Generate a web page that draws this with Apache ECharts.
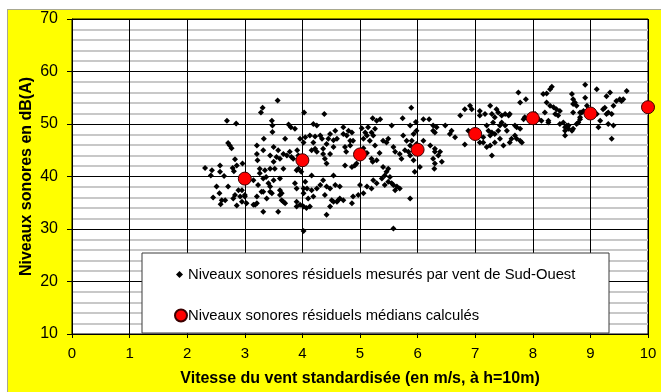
<!DOCTYPE html>
<html>
<head>
<meta charset="utf-8">
<script src="https://cdn.jsdelivr.net/npm/echarts@6/dist/echarts.min.js"></script>
<style>
  html, body { margin: 0; padding: 0; background: #ffffff; }
  #frame {
    position: absolute; left: 7px; top: 9px; width: 660px; height: 390px;
    background: #ffff00; border-left: 1px solid #a8a890; border-top: 1px solid #a8a890;
  }
  #chart { position: absolute; left: 0; top: 0; width: 661px; height: 392px; }
</style>
</head>
<body>
<div id="frame"></div>
<div id="chart"></div>
<script>
// Wind speed axis (m/s) and level axis (dB(A))
const xTicks = [0, 1, 2, 3, 4, 5, 6, 7, 8, 9, 10];
const yTicks = [10, 20, 30, 40, 50, 60, 70];

// Residual noise levels measured with south-west wind: [wind speed, level]
const measured = [
  [2.31,41.6],[2.43,41.2],[2.41,40.2],[2.57,42.1],[2.57,40.9],[2.64,40.1],[2.79,41.6],[2.81,41.0],
  [2.51,38.1],[2.71,38.1],[2.56,36.8],[2.45,36.0],[2.60,35.5],[2.58,34.7],[2.66,35.5],[2.80,35.8],
  [2.83,36.5],[2.89,37.4],[2.92,36.2],[2.95,35.2],[2.86,34.5],[2.69,50.6],[2.85,50.1],[2.71,46.4],
  [2.74,45.9],[2.77,45.4],[2.83,43.3],[2.86,42.1],[2.96,42.5],[2.95,37.4],[3.00,36.5],
  [3.15,34.6],[3.21,34.9],[3.32,33.3],[3.58,33.3],[3.64,35.5],[3.70,34.9],[3.90,35.2],[3.90,34.3],
  [3.96,34.6],[4.02,34.3],[4.07,34.0],[4.13,34.3],[4.42,32.7],[4.48,34.3],[4.54,35.2],[4.62,35.5],
  [4.71,35.5],[4.86,34.9],[5.87,35.8],
  [3.00,36.2],[3.03,34.9],[3.21,36.2],[3.18,34.6],[3.32,37.1],[3.38,35.8],[3.47,36.8],[3.23,38.4],
  [3.29,37.1],[3.44,37.1],[3.61,37.4],[3.64,36.8],[3.32,39.6],[3.41,38.7],[3.50,39.3],[3.61,39.6],
  [3.26,40.6],[3.15,39.3],[3.26,41.5],[3.35,41.2],[3.37,39.9],[3.44,41.5],[3.52,41.5],[3.50,42.8],
  [3.44,44.0],[3.21,45.9],[3.21,44.3],[3.22,43.1],[3.32,45.0],[3.33,47.2],[3.50,45.6],[3.58,45.0],
  [3.67,44.3],[3.73,44.0],[3.61,43.4],[3.78,44.7],[3.81,43.7],[3.84,43.4],[3.70,47.2],[3.76,49.9],
  [3.80,49.4],[3.87,49.1],[3.47,50.6],[3.48,49.7],[3.48,48.5],[3.31,53.1],[3.28,52.2],[3.57,54.5],
  [3.87,38.7],[3.90,37.7],[3.90,41.2],[3.67,41.5],[3.61,36.5],[3.67,35.2],[3.44,38.1],[3.55,43.7],
  [3.91,45.0],[3.93,44.0],
  [4.03,52.2],[4.38,51.9],[4.19,50.0],[4.25,49.7],[3.96,47.2],[4.05,47.5],[4.13,47.8],[4.22,47.6],
  [4.31,47.8],[4.02,46.5],[4.34,47.2],[4.57,48.7],[4.48,48.1],[4.45,47.2],[4.42,46.2],[4.71,49.4],
  [4.77,47.8],[4.86,48.4],[4.88,46.8],[4.71,48.1],[4.80,48.7],[4.83,46.8],[4.60,47.2],[4.54,46.9],
  [4.19,46.5],[4.22,45.3],[4.16,45.0],[4.25,44.7],[4.36,45.3],[4.36,44.3],[4.39,43.4],[4.42,42.5],
  [4.48,44.3],[4.54,45.6],[4.74,45.6],[4.83,45.9],[4.76,44.7],[4.74,42.1],[4.91,42.1],[4.86,41.8],
  [4.94,42.5],[4.54,40.2],[4.16,40.2],[3.98,40.9],[3.93,41.5],[4.05,39.0],[4.08,37.7],[4.16,37.4],
  [4.25,37.7],[4.31,38.4],[4.36,39.3],[4.42,38.1],[4.48,37.7],[4.57,38.4],[4.02,37.7],[4.02,36.8],
  [4.10,35.8],[4.19,36.2],[4.39,36.5],[4.51,35.5],[4.60,35.2],[4.65,35.8],[4.88,36.2],[4.97,36.5],
  [5.00,38.4],[5.06,36.8],[5.12,38.1],[5.20,37.7],[5.29,38.7],[5.38,39.6],[5.43,38.4],[5.49,39.0],
  [4.65,38.1],[4.02,29.6],
  [5.03,49.2],[5.14,49.4],[5.20,48.4],[5.23,47.8],[5.26,49.1],[5.22,51.1],[5.35,50.9],[5.29,50.6],
  [5.55,49.7],[5.74,51.1],[5.89,53.1],[5.87,49.7],[5.97,50.4],[5.75,47.8],[5.81,46.8],[5.49,47.2],
  [5.46,46.5],[5.58,45.6],[5.61,44.7],[5.69,44.3],[5.72,43.4],[5.78,45.0],[5.87,44.0],[5.93,43.1],
  [5.26,45.9],[5.34,44.5],[5.22,42.8],[5.06,45.4],[5.12,44.5],[5.09,48.4],[5.06,47.2],[5.12,47.8],
  [5.17,46.8],[5.40,46.8],[5.20,43.4],[5.29,43.1],[5.40,41.8],[5.49,41.5],[5.46,40.9],[5.43,40.2],
  [5.52,39.9],[5.55,38.7],[5.58,38.4],[5.64,38.1],[5.61,37.4],[5.69,37.7],[5.23,39.3],[5.58,30.1],
  [6.04,41.8],[5.95,40.9],[5.84,44.7],[5.87,45.9],[5.90,46.8],
  [6.10,50.9],[6.20,50.9],[6.27,49.7],[6.33,49.4],[5.98,48.7],[5.93,48.1],[6.27,48.7],[6.30,48.4],
  [6.48,49.7],[6.59,48.7],[6.56,48.1],[6.65,47.5],[5.98,46.2],[6.10,46.8],[6.22,45.9],[6.30,45.3],
  [6.30,44.7],[6.36,44.0],[6.27,43.4],[6.30,42.5],[6.29,41.5],[6.74,51.6],[6.82,52.8],[6.91,53.5],
  [6.94,52.8],[7.08,52.5],[7.08,51.6],[6.88,48.7],[6.82,46.1],[6.39,44.7],[6.42,42.8],
  [7.17,51.9],[7.26,53.5],[7.29,51.9],[7.34,51.3],[7.31,50.3],[7.37,52.8],[7.40,52.2],[7.46,51.6],
  [7.52,51.9],[7.58,51.6],[7.20,49.7],[7.23,48.7],[7.26,47.8],[7.29,48.4],[7.34,48.1],[7.40,48.7],
  [7.43,49.7],[7.46,50.3],[7.52,49.7],[7.55,48.7],[7.14,47.5],[7.08,46.5],[7.14,46.5],[7.20,45.6],
  [7.26,45.9],[7.29,44.0],[7.34,46.5],[7.43,47.2],[7.49,45.9],[7.60,46.5],[7.63,47.2],[7.69,49.7],
  [7.72,49.4],[7.78,49.1],[7.69,47.8],[7.72,47.2],[7.78,46.8],[7.81,46.5],[7.75,56.0],[7.78,54.1],
  [7.88,54.7],[7.60,51.9],[7.84,50.9],[7.86,51.3],[8.04,51.9],[8.10,50.9],[8.15,50.6],[8.21,52.2],
  [8.18,55.7],[8.47,52.5],[8.39,51.9],[8.27,50.6],[8.56,49.4],[8.62,49.1],[8.68,48.7],[8.82,50.9],
  [8.70,52.2],[8.85,52.2],
  [8.24,55.8],[8.33,57.1],[8.30,56.6],[8.24,54.1],[8.30,53.5],[8.36,53.2],[8.41,52.8],[8.44,51.6],
  [8.27,50.3],[8.47,50.0],[8.53,50.3],[8.59,49.7],[8.56,47.8],[8.68,55.7],[8.70,54.7],[8.73,54.1],
  [8.70,53.8],[8.76,53.5],[8.82,52.2],[8.88,52.5],[8.91,55.0],[8.91,57.5],[8.94,53.5],[8.82,51.3],
  [8.79,50.3],[8.76,50.0],[8.70,49.1],[8.62,49.7],[8.56,48.7],[9.11,56.6],[9.34,56.0],[9.28,55.3],
  [9.63,56.3],[9.57,54.7],[9.54,54.4],[9.11,51.9],[9.17,50.6],[9.22,52.8],[9.25,53.1],[9.28,51.9],
  [9.31,52.2],[9.37,51.9],[9.40,53.5],[9.45,54.4],[9.51,54.7],[9.31,50.0],[9.40,49.7],[9.37,47.2],
  [9.14,49.4]
];

// Computed median residual levels per wind speed class
const medianWind = [3, 4, 5, 6, 7, 8, 9, 10];
const medianLevel = [39.6, 43.1, 44.2, 45.1, 48.1, 51.1, 52.0, 53.2];

const nameMeasured = 'Niveaux sonores résiduels mesurés par vent de Sud-Ouest';
const nameMedian = 'Niveaux sonores résiduels médians calculés';
const FONT = '"Liberation Sans", Arial, sans-serif';

const chart = echarts.init(document.getElementById('chart'), null, { renderer: 'canvas' });

chart.setOption({
  backgroundColor: 'transparent',
  animation: false,
  textStyle: { fontFamily: FONT, color: '#000' },
  grid: {
    left: 72, top: 19, right: 13, bottom: 55,
    show: true, backgroundColor: '#ffffff', borderColor: '#000', borderWidth: 1
  },
  xAxis: {
    type: 'value',
    min: xTicks[0], max: xTicks[xTicks.length - 1], interval: 1,
    name: 'Vitesse du vent standardisée (en m/s, à h=10m)',
    nameLocation: 'middle', nameGap: 37, nameMoveOverlap: false,
    nameTextStyle: { fontFamily: FONT, fontWeight: 'bold', fontSize: 16, color: '#000' },
    axisLine: { show: true, lineStyle: { color: '#000', width: 1 } },
    axisTick: { show: true, length: 4, lineStyle: { color: '#000' } },
    axisLabel: { fontFamily: FONT, fontSize: 15, color: '#000', margin: 12 },
    splitLine: { show: true, lineStyle: { color: '#000', width: 1 } }
  },
  yAxis: {
    type: 'value',
    min: yTicks[0], max: yTicks[yTicks.length - 1], interval: 10,
    name: 'Niveaux sonores en dB(A)',
    nameLocation: 'middle', nameGap: 37, nameMoveOverlap: false,
    nameTextStyle: { fontFamily: FONT, fontWeight: 'bold', fontSize: 16, color: '#000' },
    axisLine: { show: true, lineStyle: { color: '#000', width: 1 } },
    axisTick: { show: true, length: 5, lineStyle: { color: '#000' } },
    axisLabel: { fontFamily: FONT, fontSize: 16, color: '#000', margin: 14 },
    splitLine: { show: true, lineStyle: { color: '#000', width: 1 } },
    minorTick: { show: false, splitNumber: 5 },
    minorSplitLine: { show: true, lineStyle: { color: '#c8c8c8', width: 2 } }
  },
  graphic: [{
    type: 'rect', z: 5,
    shape: { x: 142, y: 253, width: 467, height: 80 },
    style: { fill: '#ffffff', stroke: '#3a3a3a', lineWidth: 1 }
  }],
  legend: [
    {
      data: [{ name: nameMeasured, icon: 'diamond' }],
      left: 176, top: 267, padding: 0, z: 10,
      itemWidth: 7, itemHeight: 7, itemGap: 0,
      textStyle: { fontFamily: FONT, fontSize: 14.8, color: '#000' },
      selectedMode: false
    },
    {
      data: [{ name: nameMedian, icon: 'circle' }],
      left: 174, top: 308, padding: 0, z: 10,
      itemWidth: 12, itemHeight: 12, itemGap: 0,
      textStyle: { fontFamily: FONT, fontSize: 14.8, color: '#000', padding: [0, 0, 0, -4] },
      selectedMode: false
    }
  ],
  series: [
    {
      name: nameMeasured,
      type: 'scatter',
      symbol: 'diamond',
      symbolSize: 6,
      itemStyle: { color: '#000', opacity: 1 },
      data: measured,
      z: 2
    },
    {
      name: nameMedian,
      type: 'scatter',
      symbol: 'circle',
      symbolSize: 13,
      clip: false,
      itemStyle: { color: '#ff0000', borderColor: '#3a0000', borderWidth: 1, opacity: 1 },
      data: medianWind.map((w, i) => [w, medianLevel[i]]),
      z: 3
    }
  ]
});
</script>
</body>
</html>
